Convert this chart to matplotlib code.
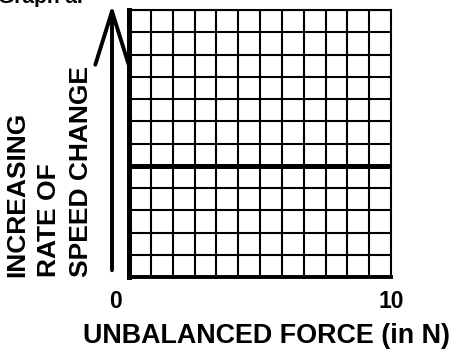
import numpy as np
import matplotlib
matplotlib.use("Agg")
import matplotlib.pyplot as plt
from matplotlib.patches import FancyArrowPatch
from matplotlib.transforms import ScaledTranslation

plt.rcParams["font.family"] = "Liberation Sans"
plt.rcParams["font.weight"] = "bold"

# graph a: constant rate of speed change for any unbalanced force
force = [0, 10]
rate = [5, 5]
x_ticks = [0, 10]
x_tick_labels = ["0", "10"]
n_cols = 12
n_rows = 12
y_label = "INCREASING\nRATE OF\nSPEED CHANGE"
x_label = "UNBALANCED FORCE (in N)"
title = "Graph a."

W, H = 453, 352
fig = plt.figure(figsize=(W / 100, H / 100), dpi=100)
ax = fig.add_axes([129 / W, 1 - 277 / H, (391 - 129) / W, (277 - 10) / H])

ax.set_xlim(0, 10)
ax.set_ylim(0, n_rows)

# square grid paper
ax.set_xticks(np.linspace(0, 10, n_cols + 1), minor=True)
ax.set_yticks(np.arange(0, n_rows + 1), minor=True)
ax.grid(which="minor", color="black", linewidth=1.5)
ax.tick_params(which="both", length=0)
ax.set_yticks([])
ax.set_xticks(x_ticks)
ax.set_xticklabels(x_tick_labels, fontsize=16.5, fontweight="bold")
ax.tick_params(axis="x", pad=9)
lbl0 = ax.get_xticklabels()[0]
lbl0.set_transform(lbl0.get_transform() + ScaledTranslation(-0.14, 0, fig.dpi_scale_trans))

ax.plot(force, rate, color="black", linewidth=3.6, solid_capstyle="butt")

ax.spines["left"].set_linewidth(3.6)
ax.spines["bottom"].set_linewidth(2.8)
ax.spines["top"].set_linewidth(1.5)
ax.spines["right"].set_linewidth(1.5)

ax.set_xlabel(x_label, fontsize=19.4, fontweight="bold")
ax.xaxis.set_label_coords((450 - 129) / 262, (277 - 343) / 267)
ax.xaxis.label.set_ha("right")
ax.xaxis.label.set_va("baseline")

fig.text(49 / W, 1 - 277 / H, y_label, rotation=90, ha="center", va="bottom",
         multialignment="left", fontsize=19, fontweight="bold", linespacing=1.42)

# big arrow pointing up along the vertical axis
arrow = FancyArrowPatch((112, H - 273), (112, H - 2), transform=None,
                        arrowstyle="->,head_length=3.2,head_width=1.0",
                        mutation_scale=12, linewidth=2.8, color="black")
fig.add_artist(arrow)

fig.text(-2 / W, 1 - 7 / H, title, ha="left", va="bottom", fontsize=15, fontweight="bold")

fig.savefig("out.png", dpi=100)
